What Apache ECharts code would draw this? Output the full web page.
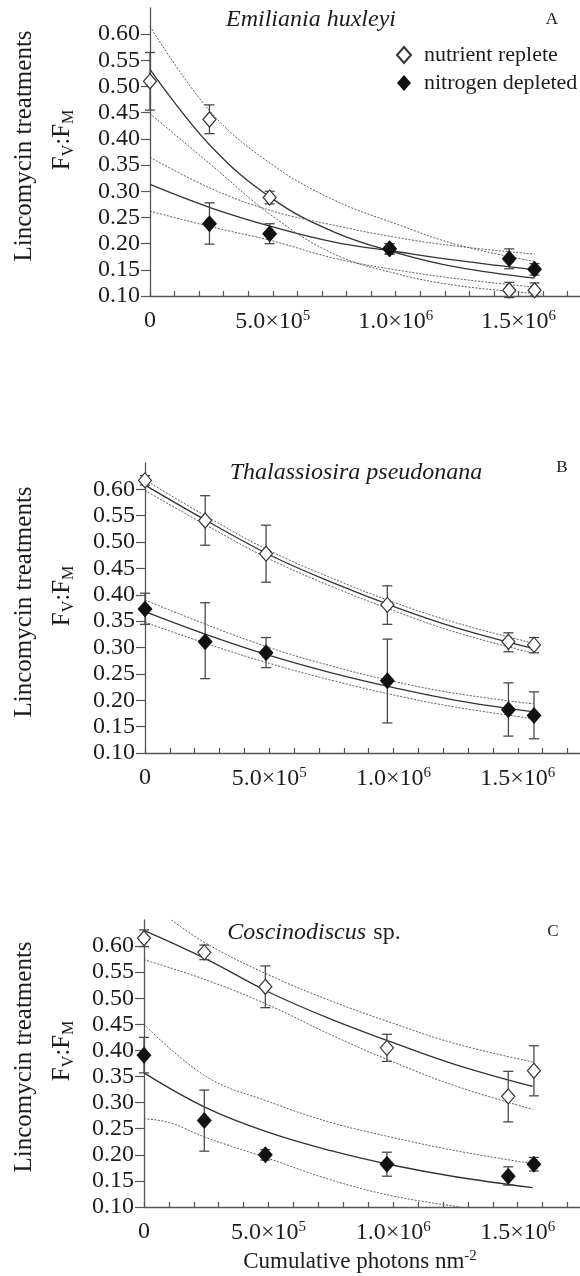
<!DOCTYPE html>
<html>
<head>
<meta charset="utf-8">
<title>Lincomycin treatments</title>
<script src="https://cdn.jsdelivr.net/npm/echarts@6/dist/echarts.min.js"></script>
<style>
  html, body { margin: 0; padding: 0; background: #fff; }
  #main { width: 580px; height: 1276px; }
</style>
</head>
<body>
<div id="main"></div>
<script>
// x positions of the measurements (cumulative photons nm^-2)
var sampleX = [0, 242000, 487000, 975000, 1462000, 1565000];

// panel A - Emiliania huxleyi
var aRep     = [0.51, 0.437, 0.288, 0.19, 0.111, 0.111];
var aRepLo   = [0.455, 0.41, 0.276, 0.18, 0.097, 0.10];
var aRepHi   = [0.565, 0.465, 0.30, 0.20, 0.126, 0.125];
var aDep     = [null, 0.238, 0.219, 0.19, 0.171, 0.151];
var aDepLo   = [null, 0.199, 0.20, 0.18, 0.152, 0.14];
var aDepHi   = [null, 0.278, 0.238, 0.20, 0.19, 0.162];

// panel B - Thalassiosira pseudonana
var bRep     = [0.617, 0.541, 0.478, 0.381, 0.311, 0.305];
var bRepLo   = [0.608, 0.494, 0.424, 0.344, 0.292, 0.29];
var bRepHi   = [0.626, 0.588, 0.532, 0.417, 0.328, 0.319];
var bDep     = [0.373, 0.311, 0.29, 0.237, 0.182, 0.171];
var bDepLo   = [0.344, 0.241, 0.262, 0.157, 0.132, 0.127];
var bDepHi   = [0.403, 0.385, 0.319, 0.316, 0.233, 0.216];

// panel C - Coscinodiscus sp.
var cRep     = [0.615, 0.588, 0.522, 0.405, 0.312, 0.361];
var cRepLo   = [0.599, 0.574, 0.482, 0.379, 0.263, 0.313];
var cRepHi   = [0.631, 0.602, 0.562, 0.431, 0.36, 0.409];
var cDep     = [0.391, 0.266, 0.20, 0.182, 0.159, 0.182];
var cDepLo   = [0.357, 0.207, 0.19, 0.159, 0.142, 0.169];
var cDepHi   = [0.425, 0.324, 0.21, 0.205, 0.177, 0.195];

// fitted curves and confidence bands
var curveX = [0, 250000, 500000, 750000, 1000000, 1250000, 1565000];
var aRepFit  = [0.533, 0.385, 0.285, 0.222, 0.183, 0.155, 0.134];
var aRepUp   = [0.615, 0.45, 0.35, 0.283, 0.238, 0.198, 0.166];
var aRepDn   = [0.448, 0.35, 0.252, 0.18, 0.143, 0.12, 0.105];
var aDepFit  = [0.313, 0.268, 0.232, 0.203, 0.185, 0.168, 0.15];
var aDepUp   = [0.365, 0.305, 0.262, 0.235, 0.212, 0.195, 0.18];
var aDepDn   = [0.262, 0.232, 0.205, 0.172, 0.15, 0.133, 0.117];

var bRepFit  = [0.608, 0.54, 0.476, 0.424, 0.378, 0.338, 0.298];
var bRepUp   = [0.618, 0.548, 0.484, 0.432, 0.386, 0.347, 0.308];
var bRepDn   = [0.598, 0.531, 0.468, 0.416, 0.37, 0.329, 0.289];
var bDepFit  = [0.368, 0.324, 0.285, 0.252, 0.224, 0.2, 0.178];
var bDepUp   = [0.39, 0.343, 0.3, 0.265, 0.236, 0.213, 0.193];
var bDepDn   = [0.348, 0.307, 0.27, 0.238, 0.21, 0.187, 0.165];

var cCurveX  = [0, 250000, 500000, 750000, 1000000, 1250000, 1560000];
var cRepFit  = [0.63, 0.575, 0.512, 0.46, 0.415, 0.373, 0.331];
var cRepDn   = [0.574, 0.535, 0.487, 0.43, 0.378, 0.332, 0.287];
var cDepFit  = [0.357, 0.29, 0.243, 0.208, 0.18, 0.158, 0.137];
var cDepUp   = [0.45, 0.35, 0.302, 0.262, 0.233, 0.208, 0.183];
var cRepUpX  = [110000, 250000, 500000, 750000, 1000000, 1250000, 1560000];
var cRepUp   = [0.65, 0.605, 0.545, 0.495, 0.452, 0.413, 0.378];
var cDepDnX  = [0, 100000, 250000, 500000, 750000, 1000000, 1270000];
var cDepDn   = [0.269, 0.262, 0.233, 0.193, 0.152, 0.121, 0.10];

var yTicks = [0.10, 0.15, 0.20, 0.25, 0.30, 0.35, 0.40, 0.45, 0.50, 0.55, 0.60];
var xTicks = [0, 100000, 200000, 300000, 400000, 500000, 600000, 700000, 800000, 900000,
              1000000, 1100000, 1200000, 1300000, 1400000, 1500000, 1600000, 1700000];
var xLabelValues = [0, 500000, 1000000, 1500000];
var xTickLabels = { 0: '0', 500000: '{b|5.0×10}{s|5}', 1000000: '{b|1.0×10}{s|6}', 1500000: '{b|1.5×10}{s|6}' };

var FONT = '"Liberation Serif", "Times New Roman", serif';
var INK = '#1c1c1c';

var chart = echarts.init(document.getElementById('main'));

function pairs(xArr, yArr) {
    var out = [];
    for (var i = 0; i < xArr.length; i++) {
        if (yArr[i] != null) out.push([xArr[i], yArr[i]]);
    }
    return out;
}
function triples(xArr, lo, hi) {
    var out = [];
    for (var i = 0; i < xArr.length; i++) {
        if (lo[i] != null) out.push([xArr[i], lo[i], hi[i]]);
    }
    return out;
}

function renderErr(params, api) {
    var x = api.value(0);
    var lo = api.coord([x, api.value(1)]);
    var hi = api.coord([x, api.value(2)]);
    var w = 5;
    var st = { stroke: '#4a4a4a', lineWidth: 1.3 };
    return {
        type: 'group',
        children: [
            { type: 'line', shape: { x1: lo[0], y1: lo[1], x2: hi[0], y2: hi[1] }, style: st },
            { type: 'line', shape: { x1: lo[0] - w, y1: lo[1], x2: lo[0] + w, y2: lo[1] }, style: st },
            { type: 'line', shape: { x1: hi[0] - w, y1: hi[1], x2: hi[0] + w, y2: hi[1] }, style: st }
        ]
    };
}

var panels = [
    { grid: { left: 150, top: 8, width: 430, height: 288 },
      rep: aRep, repLo: aRepLo, repHi: aRepHi, dep: aDep, depLo: aDepLo, depHi: aDepHi,
      solid: [pairs(curveX, aRepFit), pairs(curveX, aDepFit)],
      dotted: [pairs(curveX, aRepUp), pairs(curveX, aRepDn), pairs(curveX, aDepUp), pairs(curveX, aDepDn)] },
    { grid: { left: 145, top: 463, width: 435, height: 290 },
      rep: bRep, repLo: bRepLo, repHi: bRepHi, dep: bDep, depLo: bDepLo, depHi: bDepHi,
      solid: [pairs(curveX, bRepFit), pairs(curveX, bDepFit)],
      dotted: [pairs(curveX, bRepUp), pairs(curveX, bRepDn), pairs(curveX, bDepUp), pairs(curveX, bDepDn)] },
    { grid: { left: 144, top: 920, width: 436, height: 287 },
      rep: cRep, repLo: cRepLo, repHi: cRepHi, dep: cDep, depLo: cDepLo, depHi: cDepHi,
      solid: [pairs(cCurveX, cRepFit), pairs(cCurveX, cDepFit)],
      dotted: [pairs(cRepUpX, cRepUp), pairs(cCurveX, cRepDn), pairs(cCurveX, cDepUp), pairs(cDepDnX, cDepDn)] }
];

var grids = [], xAxes = [], yAxes = [], series = [];
panels.forEach(function (p, i) {
    grids.push(p.grid);
    xAxes.push({
        type: 'value', gridIndex: i, min: 0, max: 1750000, interval: 100000,
        splitLine: { show: false },
        axisLine: { lineStyle: { color: '#555', width: 1.3 } },
        axisTick: { inside: true, length: 5, customValues: xTicks, lineStyle: { color: '#555', width: 1.2 } },
        axisLabel: {
            margin: 13, color: INK, customValues: xLabelValues,
            formatter: function (v) { return xTickLabels[v] !== undefined ? xTickLabels[v] : ''; },
            rich: {
                b: { fontFamily: FONT, fontSize: 24, color: INK, lineHeight: 26 },
                s: { fontFamily: FONT, fontSize: 15, color: INK, lineHeight: 14, verticalAlign: 'top' }
            },
            fontFamily: FONT, fontSize: 24
        }
    });
    yAxes.push({
        type: 'value', gridIndex: i, min: 0.1, max: 0.65, interval: 0.05,
        splitLine: { show: false },
        axisLine: { show: true, lineStyle: { color: '#555', width: 1.3 } },
        axisTick: { show: true, length: 9, customValues: yTicks, lineStyle: { color: '#555', width: 1.2 } },
        axisLabel: {
            margin: 10, color: INK, fontFamily: FONT, fontSize: 24, customValues: yTicks,
            formatter: function (v) { return v.toFixed(2); }
        }
    });
    series.push({
        type: 'custom', xAxisIndex: i, yAxisIndex: i, renderItem: renderErr,
        data: triples(sampleX, p.repLo, p.repHi), z: 3, silent: true
    });
    series.push({
        type: 'custom', xAxisIndex: i, yAxisIndex: i, renderItem: renderErr,
        data: triples(sampleX, p.depLo, p.depHi), z: 3, silent: true
    });
    p.solid.forEach(function (d) {
        series.push({
            type: 'line', xAxisIndex: i, yAxisIndex: i, data: d, smooth: 0.4,
            showSymbol: false, lineStyle: { color: '#333', width: 1.3 }, z: 2, silent: true
        });
    });
    p.dotted.forEach(function (d) {
        series.push({
            type: 'line', xAxisIndex: i, yAxisIndex: i, data: d, smooth: 0.4,
            showSymbol: false, lineStyle: { color: '#5e5e5e', width: 1, type: [2, 1.5] }, z: 2, silent: true
        });
    });
    series.push({
        name: 'nutrient replete', type: 'scatter', xAxisIndex: i, yAxisIndex: i,
        symbol: 'diamond', symbolSize: [13, 15],
        itemStyle: { color: '#fff', borderColor: '#333', borderWidth: 1.2, opacity: 1 },
        data: pairs(sampleX, p.rep), z: 4
    });
    series.push({
        name: 'nitrogen depleted', type: 'scatter', xAxisIndex: i, yAxisIndex: i,
        symbol: 'diamond', symbolSize: [15, 17],
        itemStyle: { color: '#111', opacity: 1 },
        data: pairs(sampleX, p.dep), z: 5
    });
});

function yName(x, y) {
    return [
        { type: 'text', x: x, y: y, rotation: Math.PI / 2,
          style: { text: 'Lincomycin treatments', font: '25px ' + FONT, fill: INK, align: 'center', verticalAlign: 'middle' } },
        { type: 'text', x: x + 38, y: y - 6, rotation: Math.PI / 2,
          style: { text: '{n|F}{u|V}{n|:F}{u|M}', align: 'center', verticalAlign: 'middle',
                   rich: {
                       n: { fontFamily: FONT, fontSize: 25, fill: INK, lineHeight: 30 },
                       u: { fontFamily: FONT, fontSize: 16, fill: INK, lineHeight: 30, verticalAlign: 'bottom' }
                   } } }
    ];
}

function label(text, x, y, size, style) {
    return { type: 'text', x: x, y: y,
             style: { text: text, font: (style || '') + ' ' + size + 'px ' + FONT, fill: INK, align: 'center', verticalAlign: 'middle' } };
}

var graphics = []
    .concat(yName(24, 146), yName(24, 602), yName(24, 1057))
    .concat([
        label('Emiliania huxleyi', 311, 20, 24, 'italic'),
        label('Thalassiosira pseudonana', 356, 473, 24, 'italic'),
        { type: 'text', x: 314, y: 933,
          style: { text: '{i|Coscinodiscus} {n|sp.}', align: 'center', verticalAlign: 'middle',
                   rich: {
                       i: { fontFamily: FONT, fontStyle: 'italic', fontSize: 24, fill: INK },
                       n: { fontFamily: FONT, fontSize: 24, fill: INK, padding: [0, 0, 0, 4] }
                   } } },
        label('A', 552, 20, 17),
        label('B', 562, 468, 17),
        label('C', 553, 932, 17),
        { type: 'text', x: 360, y: 1262,
          style: { text: '{n|Cumulative photons nm}{s|-2}', align: 'center', verticalAlign: 'middle',
                   rich: {
                       n: { fontFamily: FONT, fontSize: 23, fill: INK, lineHeight: 26 },
                       s: { fontFamily: FONT, fontSize: 15, fill: INK, lineHeight: 14, verticalAlign: 'top' }
                   } } }
    ]);

var option = {
    backgroundColor: '#fff',
    animation: false,
    legend: {
        left: 391, top: 39, orient: 'vertical',
        itemWidth: 14, itemHeight: 16, itemGap: 6,
        textStyle: { fontFamily: FONT, fontSize: 22, color: INK, padding: [0, 0, 0, 8] },
        data: ['nutrient replete', 'nitrogen depleted'],
        selectedMode: false
    },
    grid: grids,
    xAxis: xAxes,
    yAxis: yAxes,
    series: series,
    graphic: graphics
};
chart.setOption(option);
</script>
</body>
</html>
